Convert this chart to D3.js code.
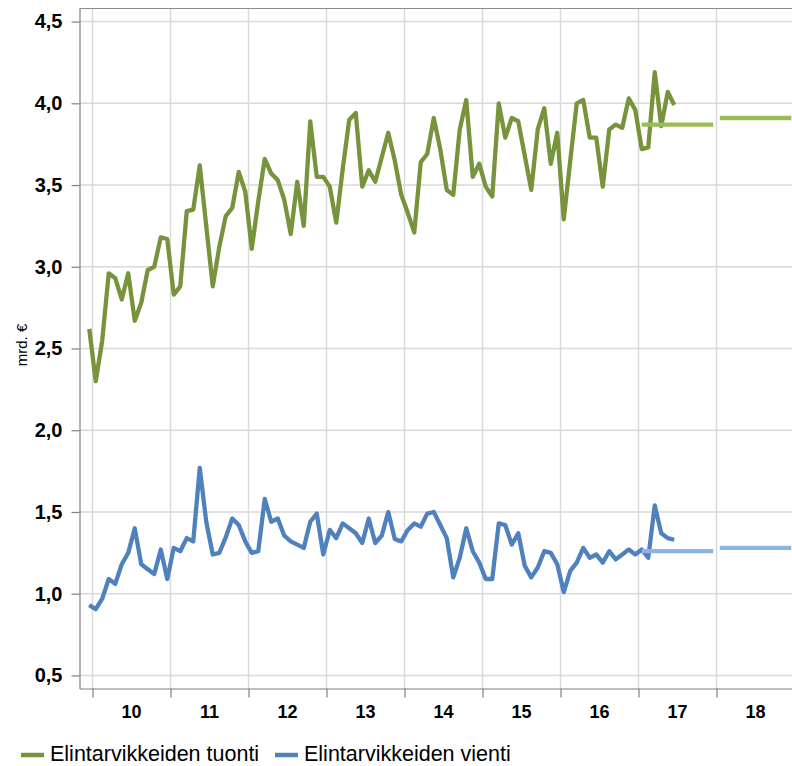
<!DOCTYPE html>
<html>
<head>
<meta charset="utf-8">
<script src="https://cdn.jsdelivr.net/npm/d3@7"></script>
<style>
  body { margin: 0; background: #fff; }
  text { font-family: "Liberation Sans", Arial, sans-serif; }
</style>
</head>
<body>
<svg width="792" height="766"></svg>
<script>
let width = 792,
    height = 766;

// monthly values in mrd. €, first value is Dec 2009 (month -1 counted from Jan 2010)
let firstMonth = -1;

let imports = [
  2.62,
  2.30, 2.55, 2.96, 2.93, 2.80, 2.96, 2.67, 2.78, 2.98, 3.00, 3.18, 3.17,
  2.83, 2.88, 3.34, 3.35, 3.62, 3.25, 2.88, 3.12, 3.31, 3.36, 3.58, 3.46,
  3.11, 3.40, 3.66, 3.57, 3.53, 3.41, 3.20, 3.52, 3.25, 3.89, 3.55, 3.55,
  3.49, 3.27, 3.60, 3.90, 3.94, 3.49, 3.59, 3.52, 3.67, 3.82, 3.65, 3.44,
  3.33, 3.21, 3.64, 3.69, 3.91, 3.72, 3.47, 3.44, 3.84, 4.02, 3.55, 3.63,
  3.49, 3.43, 4.00, 3.79, 3.91, 3.89, 3.68, 3.47, 3.84, 3.97, 3.63, 3.82,
  3.29, 3.65, 4.00, 4.02, 3.79, 3.79, 3.49, 3.84, 3.87, 3.85, 4.03, 3.96,
  3.72, 3.73, 4.19, 3.86, 4.07, 3.99
];

let exports = [
  0.93,
  0.905, 0.97, 1.09, 1.06, 1.18, 1.25, 1.40, 1.18, 1.15, 1.12, 1.27, 1.09,
  1.28, 1.26, 1.34, 1.32, 1.77, 1.44, 1.24, 1.25, 1.345, 1.46, 1.42, 1.32,
  1.25, 1.26, 1.58, 1.44, 1.46, 1.355, 1.32, 1.30, 1.28, 1.44, 1.49, 1.24,
  1.39, 1.34, 1.43, 1.40, 1.37, 1.31, 1.46, 1.31, 1.355, 1.50, 1.335, 1.32,
  1.39, 1.43, 1.41, 1.49, 1.50, 1.42, 1.34, 1.10, 1.22, 1.40, 1.26, 1.19,
  1.09, 1.09, 1.43, 1.42, 1.30, 1.37, 1.17, 1.10, 1.16, 1.26, 1.25, 1.18,
  1.01, 1.14, 1.19, 1.28, 1.22, 1.24, 1.19, 1.26, 1.21, 1.24, 1.27, 1.24,
  1.27, 1.22, 1.54, 1.37, 1.34, 1.33
];

let forecastYears = [2017, 2018];
let importForecast = [3.87, 3.91];
let exportForecast = [1.26, 1.28];

let yearTicks = [2010, 2011, 2012, 2013, 2014, 2015, 2016, 2017, 2018];
let valueTicks = [0.5, 1.0, 1.5, 2.0, 2.5, 3.0, 3.5, 4.0, 4.5];

let seriesNames = ["Elintarvikkeiden tuonti", "Elintarvikkeiden vienti"];
let colors = {tuonti: "#77933c", vienti: "#4f81bd", tuontiEnn: "#9bbb59", vientiEnn: "#8db3e2"};

let plotLeft = 79.5, plotTop = 8.5, plotBottom = 688.5;

let monthOf = (year) => (year - 2010) * 12;

let x = d3.scaleLinear()
  .domain([-2, 108])
  .range([plotLeft, plotLeft + 110 * 6.5]);

let y = d3.scaleLinear()
  .domain([0.42, 4.58])
  .range([plotBottom, plotTop]);

let svg = d3.select("svg");

// gridlines
svg.append("g")
  .selectAll("line")
  .data(valueTicks)
  .enter().append("line")
    .attr("x1", plotLeft).attr("x2", width)
    .attr("y1", d => y(d)).attr("y2", d => y(d))
    .attr("stroke", "#d9d9d9")
    .attr("stroke-width", 1.5);

svg.append("g")
  .selectAll("line")
  .data(yearTicks)
  .enter().append("line")
    .attr("x1", d => x(monthOf(d))).attr("x2", d => x(monthOf(d)))
    .attr("y1", plotTop).attr("y2", plotBottom)
    .attr("stroke", "#d9d9d9")
    .attr("stroke-width", 1.5);

// top border
svg.append("line")
  .attr("x1", plotLeft).attr("x2", width)
  .attr("y1", plotTop).attr("y2", plotTop)
  .attr("stroke", "#8c8c8c")
  .attr("stroke-width", 1.2);

let fmt = d3.format(".1f");

let yAxis = svg.append("g")
  .attr("transform", `translate(${plotLeft},0)`)
  .call(d3.axisLeft(y)
    .tickValues(valueTicks)
    .tickSize(8)
    .tickSizeOuter(0)
    .tickPadding(9)
    .tickFormat(d => fmt(d).replace(".", ",")));

yAxis.selectAll("path, line").attr("stroke", "#808080").attr("stroke-width", 1.2);
yAxis.selectAll("text")
  .attr("fill", "#000")
  .style("font-size", "20px")
  .style("font-weight", "bold");

let xAxis = svg.append("g")
  .attr("transform", `translate(0,${plotBottom})`)
  .call(d3.axisBottom(x)
    .tickValues(yearTicks.map(monthOf))
    .tickSize(9)
    .tickSizeOuter(0)
    .tickFormat(""));

xAxis.selectAll("path, line").attr("stroke", "#808080").attr("stroke-width", 1.2);

svg.append("g")
  .selectAll("text")
  .data(yearTicks)
  .enter().append("text")
    .attr("x", d => x(monthOf(d) + 6))
    .attr("y", 718)
    .attr("text-anchor", "middle")
    .style("font-size", "18px")
    .style("font-weight", "bold")
    .text(d => String(d).slice(2));

svg.append("text")
  .attr("transform", "translate(27,345) rotate(-90)")
  .attr("text-anchor", "middle")
  .style("font-size", "15px")
  .text("mrd. €");

// series
let line = d3.line()
  .x((d, i) => x(firstMonth + i + 0.5))
  .y(d => y(d));

svg.append("path")
  .datum(imports)
  .attr("d", line)
  .attr("fill", "none")
  .attr("stroke", colors.tuonti)
  .attr("stroke-width", 4.3)
  .attr("stroke-linejoin", "round");

svg.append("path")
  .datum(exports)
  .attr("d", line)
  .attr("fill", "none")
  .attr("stroke", colors.vienti)
  .attr("stroke-width", 4.3)
  .attr("stroke-linejoin", "round");

// yearly forecasts, flat across Jan..Dec
let drawForecast = (values, color) => {
  svg.append("g")
    .selectAll("line")
    .data(values)
    .enter().append("line")
      .attr("x1", (d, i) => x(monthOf(forecastYears[i]) + 0.5))
      .attr("x2", (d, i) => x(monthOf(forecastYears[i]) + 11.5))
      .attr("y1", d => y(d))
      .attr("y2", d => y(d))
      .attr("stroke", color)
      .attr("stroke-width", 4.3);
};

drawForecast(importForecast, colors.tuontiEnn);
drawForecast(exportForecast, colors.vientiEnn);

// legend
let legend = svg.append("g")
  .selectAll("g")
  .data(seriesNames)
  .enter().append("g")
    .attr("transform", (d, i) => `translate(${i == 0 ? 21 : 275},755)`);

legend.append("line")
  .attr("x1", 0).attr("x2", 23)
  .attr("stroke", (d, i) => i == 0 ? colors.tuonti : colors.vienti)
  .attr("stroke-width", 4.5);

legend.append("text")
  .attr("x", 29)
  .attr("y", 6)
  .style("font-size", "21.5px")
  .text(d => d);
</script>
</body>
</html>
